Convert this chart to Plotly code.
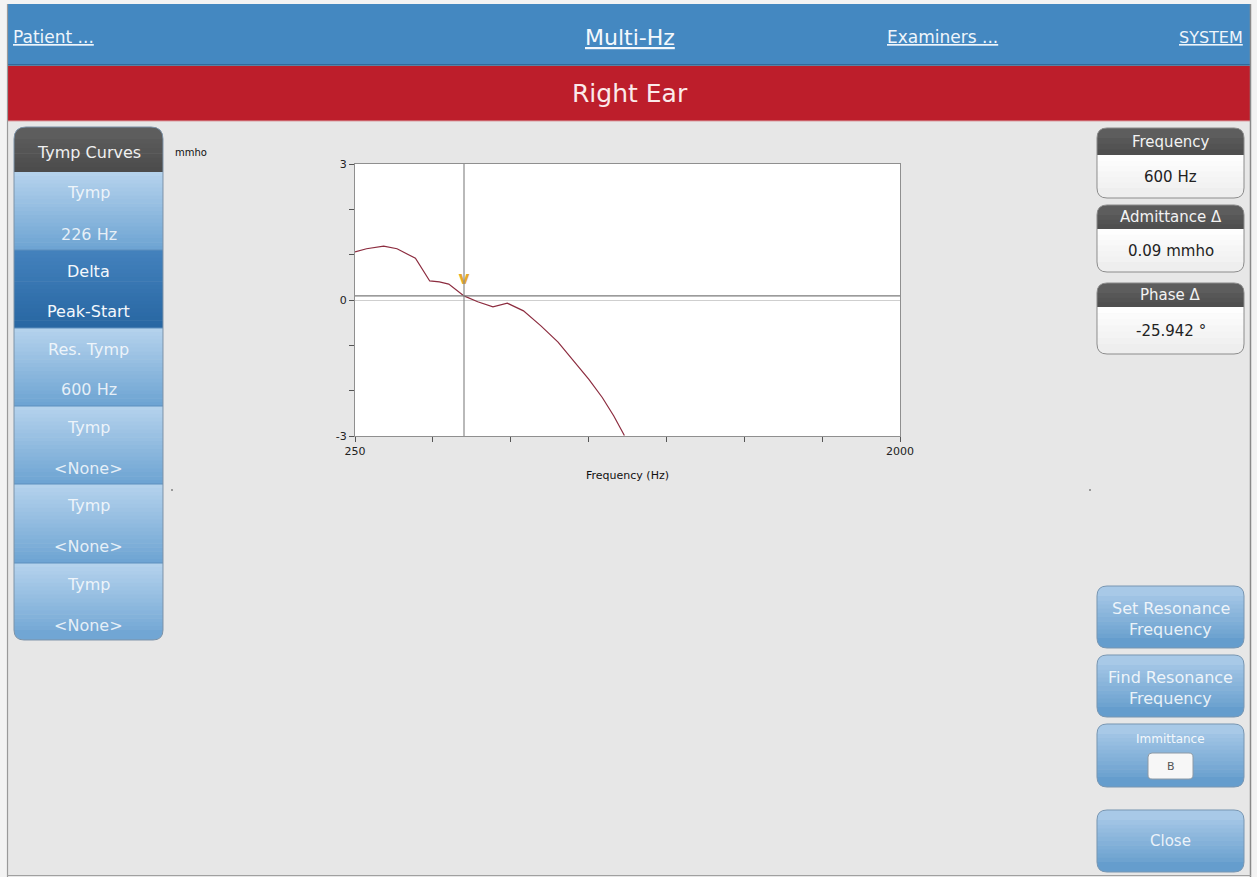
import plotly.graph_objects as go

W, H = 1257, 877

# ---------------- data ----------------
freq_hz = [250, 287, 342, 385, 444, 490, 521, 551, 600, 644, 693, 739, 791, 847, 902, 945, 1001, 1044, 1081, 1115]
admittance_mmho = [1.06, 1.13, 1.19, 1.13, 0.92, 0.42, 0.40, 0.35, 0.09, -0.04, -0.15, -0.07, -0.24, -0.57, -0.93, -1.29, -1.75, -2.15, -2.56, -2.99]
cursor_freq = 600
cursor_adm = 0.09
peak_marker_adm = 0.45
x_tick_vals = [250, 500, 750, 1000, 1250, 1500, 1750, 2000]
x_tick_text = ["250", "", "", "", "", "", "", "2000"]
y_tick_vals = [-3, -2, -1, 0, 1, 2, 3]
y_tick_text = ["-3", "", "", "0", "", "", "3"]

nav_items = ["Patient ...", "Multi-Hz", "Examiners ...", "SYSTEM"]
ear_title = "Right Ear"
left_header = "Tymp Curves"
left_buttons = [("Tymp", "226 Hz"), ("Delta", "Peak-Start"), ("Res. Tymp", "600 Hz"),
                ("Tymp", "<None>"), ("Tymp", "<None>"), ("Tymp", "<None>")]
info_titles = ["Frequency", "Admittance Δ", "Phase Δ"]
info_values = ["600 Hz", "0.09 mmho", "-25.942 °"]
right_buttons = [["Set Resonance", "Frequency"], ["Find Resonance", "Frequency"], ["Immittance"], ["Close"]]

FONT = "DejaVu Sans"

# ---------------- helpers ----------------
shapes = []
annotations = []


def X(x):
    return x / W


def Y(y):
    return 1 - y / H


def P(x, y):
    return f"{X(x):.5f},{Y(y):.5f}"


def rpath(x0, y0, x1, y1, tl=0, tr=0, br=0, bl=0):
    s = f"M {P(x0 + tl, y0)} L {P(x1 - tr, y0)} "
    if tr:
        s += f"Q {P(x1, y0)} {P(x1, y0 + tr)} "
    s += f"L {P(x1, y1 - br)} "
    if br:
        s += f"Q {P(x1, y1)} {P(x1 - br, y1)} "
    s += f"L {P(x0 + bl, y1)} "
    if bl:
        s += f"Q {P(x0, y1)} {P(x0, y1 - bl)} "
    s += f"L {P(x0, y0 + tl)} "
    if tl:
        s += f"Q {P(x0, y0)} {P(x0 + tl, y0)} "
    return s + "Z"


def hex2rgb(h):
    h = h.lstrip("#")
    return [int(h[i:i + 2], 16) for i in (0, 2, 4)]


def lerp(c1, c2, t):
    a, b = hex2rgb(c1), hex2rgb(c2)
    return "rgb(" + ",".join(str(round(a[i] + (b[i] - a[i]) * t)) for i in range(3)) + ")"


def add_path(path, fill, line_color=None, lw=0):
    shapes.append(dict(type="path", xref="paper", yref="paper", path=path,
                       fillcolor=fill,
                       line=dict(color=line_color or "rgba(0,0,0,0)", width=lw)))


def add_rect(x0, y0, x1, y1, fill, line_color=None, lw=0):
    shapes.append(dict(type="rect", xref="paper", yref="paper",
                       x0=X(x0), x1=X(x1), y0=Y(y1), y1=Y(y0),
                       fillcolor=fill, line=dict(color=line_color or "rgba(0,0,0,0)", width=lw)))


def add_line(x0, y0, x1, y1, color, lw=1):
    shapes.append(dict(type="line", xref="paper", yref="paper",
                       x0=X(x0), x1=X(x1), y0=Y(y0), y1=Y(y1),
                       line=dict(color=color, width=lw)))


def grad_box(x0, y0, x1, y1, top, bot, rt=0, rb=0, step=4, border=None, bw=1):
    h = y1 - y0
    edges = [y0]
    b = y1 - rb
    if rt:
        edges.append(y0 + rt)
    start = edges[-1]
    n = max(1, round((b - start) / step))
    for i in range(1, n + 1):
        edges.append(start + (b - start) * i / n)
    if rb:
        edges.append(y1)
    m = len(edges) - 1
    for i in range(m):
        e0, e1 = edges[i], edges[i + 1]
        t = ((e0 + e1) / 2 - y0) / h
        tl = rt if i == 0 else 0
        bl = rb if i == m - 1 else 0
        ext = 0.6 if i < m - 1 else 0
        add_path(rpath(x0, e0, x1, e1 + ext, tl, tl, bl, bl), lerp(top, bot, t))
    if border:
        add_path(rpath(x0, y0, x1, y1, rt, rt, rb, rb), "rgba(0,0,0,0)", border, bw)


def text(x, y, s, size=14, color="white", xanchor="center", family=FONT):
    annotations.append(dict(x=X(x), y=Y(y), xref="paper", yref="paper", text=s,
                            showarrow=False, xanchor=xanchor, yanchor="middle",
                            font=dict(size=size, color=color, family=family)))


# ---------------- window frame & header bars ----------------
add_rect(0, 0, 7, H, "#f3f3f3")
add_rect(0, 0, W, 4, "#f3f3f3")
add_rect(1251, 0, W, H, "#f3f3f3")
add_rect(7, 4, 1251, 65, "#4488c1")
add_line(7, 65, 1251, 65, "#2d5f8c", 1.5)
add_rect(7, 66, 1251, 121, "#bd1e2b")
add_line(7, 121, 1251, 121, "#d9a0a4", 1)
add_line(7.5, 4, 7.5, H, "#9a9a9a", 1.2)
add_line(1250.5, 4, 1250.5, H, "#8a8a8a", 1.5)
add_line(7, 875.5, 1251, 875.5, "#a0a0a0", 1)

text(11, 37, "<u>" + nav_items[0] + "</u>", 17, "#eef5fb", "left")
text(630, 37, "<u>" + nav_items[1] + "</u>", 22, "#f4f8fc")
text(885, 37, "<u>" + nav_items[2] + "</u>", 17, "#eef5fb", "left")
text(1245, 37, "<u>" + nav_items[3] + "</u>", 16, "#eef5fb", "right")
text(630, 93, ear_title, 25, "#fbeaea")

# ---------------- left panel ----------------
LX0, LX1 = 14, 163
grad_box(LX0, 127, LX1, 172, "#606060", "#4b4b4b", rt=12, step=5)
text((LX0 + LX1) / 2, 152, left_header, 16, "#f0f0f0")
seg_edges = [172, 250, 328, 406, 484, 563, 640]
for i, (l1, l2) in enumerate(left_buttons):
    y0, y1 = seg_edges[i], seg_edges[i + 1]
    if l1 == "Delta":
        top, bot, col = "#4482bd", "#2766a2", "#f4f8fc"
    else:
        top, bot, col = "#b6d3ed", "#6ca3d2", "rgba(255,255,255,0.82)"
    rb = 10 if i == len(left_buttons) - 1 else 0
    grad_box(LX0, y0, LX1, y1, top, bot, rb=rb, step=4)
    if i > 0:
        add_line(LX0, y0, LX1, y0, "#5d8fbd", 1)
    text((LX0 + LX1) / 2, y0 + 21, l1, 16, col)
    text((LX0 + LX1) / 2, y0 + 62, l2, 16, col)
add_path(rpath(LX0, 127, LX1, 640, 12, 12, 10, 10), "rgba(0,0,0,0)", "#7d93a8", 1)

# ---------------- right info boxes ----------------
RX0, RX1 = 1097, 1244
info_geo = [(128, 155, 198), (205, 229, 272), (283, 307, 354)]
for (h0, h1, b1), t, v in zip(info_geo, info_titles, info_values):
    grad_box(RX0, h0, RX1, h1, "#616161", "#4d4d4d", rt=10, step=5)
    grad_box(RX0, h1, RX1, b1, "#ffffff", "#ececec", rb=10, step=6)
    add_path(rpath(RX0, h0, RX1, b1, 10, 10, 10, 10), "rgba(0,0,0,0)", "#8c8c8c", 1)
    text((RX0 + RX1) / 2, (h0 + h1) / 2, t, 15, "#f2f2f2")
    text((RX0 + RX1) / 2, (h1 + b1) / 2, v, 15, "#222222")

# ---------------- right buttons ----------------
btn_geo = [(586, 648), (655, 717), (724, 787), (810, 872)]
for (y0, y1), lines in zip(btn_geo, right_buttons):
    grad_box(RX0, y0, RX1, y1, "#aecdea", "#5f99ca", rt=10, rb=10, step=4,
             border="#7896b2", bw=1)
    cx = (RX0 + RX1) / 2
    if len(lines) == 2:
        text(cx, y0 + 22, lines[0], 16, "rgba(255,255,255,0.85)")
        text(cx, y0 + 43, lines[1], 16, "rgba(255,255,255,0.85)")
    elif lines[0] == "Immittance":
        text(cx, y0 + 15, lines[0], 12, "rgba(255,255,255,0.9)")
        add_path(rpath(1148, 753, 1193, 779, 4, 4, 4, 4), "#f7f7f7", "#8d9aa6", 1)
        text(1170.5, 766, "B", 11, "#555555")
    else:
        text(cx, (y0 + y1) / 2, lines[0], 15, "rgba(255,255,255,0.85)")

# small stray dots
add_rect(171, 489, 173, 491, "#9a9a9a")
add_rect(1089, 489, 1091, 491, "#9a9a9a")

# ---------------- chart ----------------
text(173, 152, "mmho", 10, "#111111", "left")

fig = go.Figure()
fig.add_trace(go.Scatter(x=freq_hz, y=admittance_mmho, mode="lines",
                         line=dict(color="#8c2c3f", width=1.2), hoverinfo="skip",
                         showlegend=False))
fig.add_trace(go.Scatter(x=[cursor_freq], y=[peak_marker_adm], mode="text", text=["<b>v</b>"],
                         textfont=dict(color="#e6a92a", size=17, family="DejaVu Sans"),
                         hoverinfo="skip", showlegend=False))

shapes.append(dict(type="line", xref="x", yref="y", x0=cursor_freq, x1=cursor_freq,
                   y0=-3, y1=3, line=dict(color="#8a8a8a", width=1.2)))
shapes.append(dict(type="line", xref="x", yref="y", x0=250, x1=2000,
                   y0=cursor_adm, y1=cursor_adm, line=dict(color="#7a7a7a", width=1.3)))

axis_common = dict(showgrid=False, showline=True, mirror=True, linecolor="#8f8f8f",
                   linewidth=1, ticks="outside", ticklen=5, tickcolor="#555555",
                   tickfont=dict(size=11, color="#222222", family=FONT), fixedrange=True,
                   automargin=False)

fig.update_layout(
    width=W, height=H, margin=dict(l=0, r=0, t=0, b=0, pad=0, autoexpand=False),
    paper_bgcolor="#e7e7e7", plot_bgcolor="white",
    xaxis=dict(domain=[X(355), X(900)], range=[250, 2000], tickvals=x_tick_vals,
               ticktext=x_tick_text, zeroline=False,
               title=dict(text="Frequency (Hz)", standoff=14,
                          font=dict(size=11, color="#111111", family=FONT)),
               **axis_common),
    yaxis=dict(domain=[Y(436), Y(164)], range=[-3, 3], tickvals=y_tick_vals,
               ticktext=y_tick_text, zeroline=True, zerolinecolor="#cfcfcf",
               zerolinewidth=1, **axis_common),
    shapes=shapes, annotations=annotations, showlegend=False,
)

fig.write_html("out.html", config={"displayModeBar": False, "staticPlot": True},
               post_script="document.body.style.margin='0';document.body.style.overflow='hidden';")
